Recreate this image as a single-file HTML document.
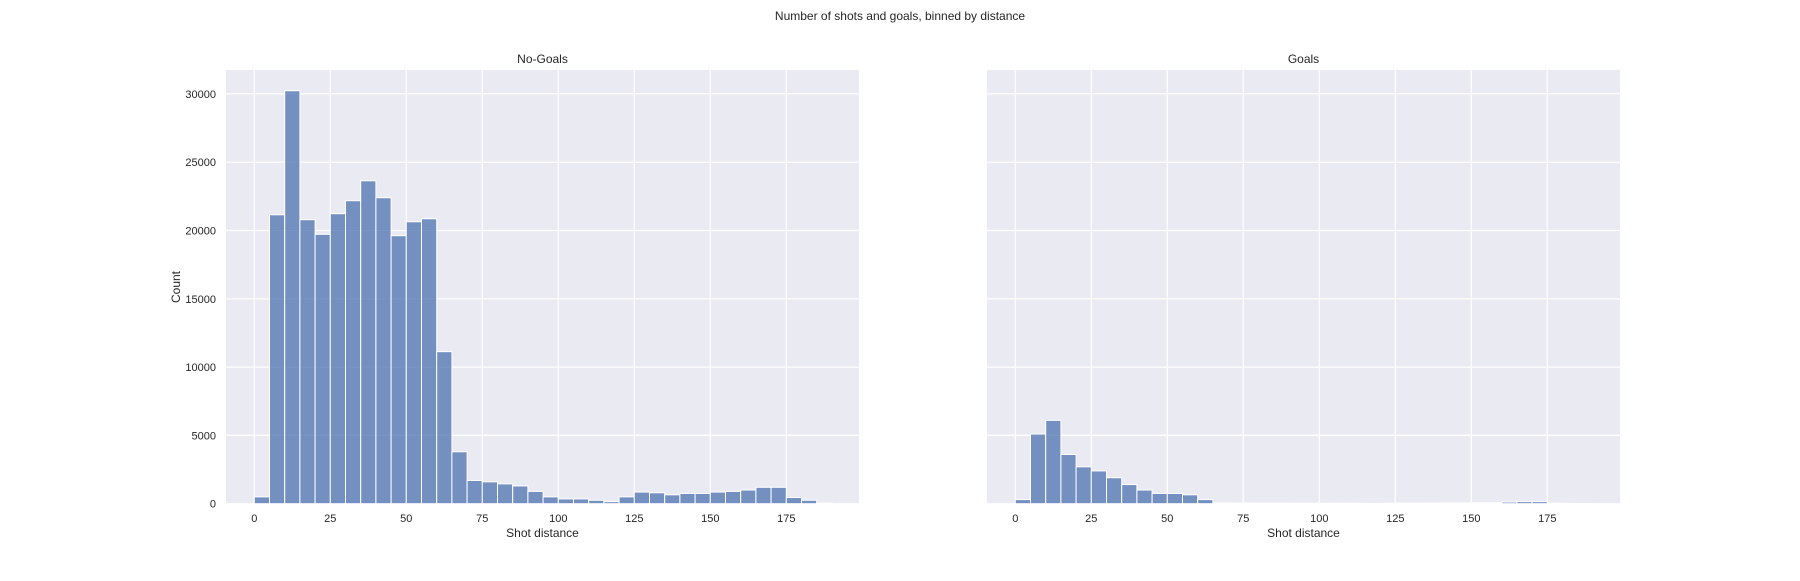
<!DOCTYPE html>
<html><head><meta charset="utf-8"><style>
body{margin:0;background:#fff;width:1800px;height:576px;overflow:hidden;font-family:"Liberation Sans",sans-serif}
svg text{font-family:"Liberation Sans",sans-serif;fill:#262626}
</style></head><body>
<svg id="chart" width="1800" height="576" xmlns="http://www.w3.org/2000/svg">
<text x="900" y="20" font-size="12" text-anchor="middle">Number of shots and goals, binned by distance</text>
</svg>
<script>
const binStarts=[0,5,10,15,20,25,30,35,40,45,50,55,60,65,70,75,80,85,90,95,100,105,110,115,120,125,130,135,140,145,150,155,160,165,170,175,180,185];
const noGoals=[500,21150,30230,20790,19720,21230,22180,23640,22400,19620,20640,20860,11130,3800,1700,1600,1450,1300,900,500,350,350,250,150,500,850,800,650,750,750,850,900,1000,1200,1200,450,250,50];
const goals=[300,5100,6100,3600,2700,2400,1900,1400,1000,750,750,650,300,60,50,50,40,40,30,30,30,30,30,20,30,40,40,50,60,60,70,70,120,150,150,40,20,10];
const xTicks=[0,25,50,75,100,125,150,175];
const yTicks=[0,5000,10000,15000,20000,25000,30000];
const binWidth=5;
const svgEl=document.getElementById('chart');
const NS='http://www.w3.org/2000/svg';
function mk(tag,attrs,parent){const e=document.createElementNS(NS,tag);for(const k in attrs)e.setAttribute(k,attrs[k]);(parent||svgEl).appendChild(e);return e;}
const plotTop=70,plotBottom=504;
const yScale=v=>503.7-v*(68.3/5000);
function panel(left,right,zero,title,data,showY,name){
  const xScale=v=>zero+v*3.04;
  const g=mk('g',{});
  
  
  const bg=mk('rect',{x:left,y:plotTop,width:right-left,height:plotBottom-plotTop,fill:'#eaeaf2'},g);
  
  
  yTicks.forEach(t=>{
    const l=mk('line',{x1:left,x2:right,y1:yScale(t),y2:yScale(t),stroke:'#fff','stroke-width':1.2},g);
    
    
    if(showY){
      const tx=mk('text',{x:left-10,y:yScale(t)+4,'font-size':11,'text-anchor':'end'},g);
      tx.textContent=t;
      
      
    }
  });
  xTicks.forEach(t=>{
    const l=mk('line',{x1:xScale(t),x2:xScale(t),y1:plotTop,y2:plotBottom,stroke:'#fff','stroke-width':1.2},g);
    
    
    const tx=mk('text',{x:xScale(t),y:plotBottom+18,'font-size':11,'text-anchor':'middle'},g);
    tx.textContent=t;
    
    
  });
  data.forEach((v,i)=>{
    const x0=xScale(binStarts[i]),x1=xScale(binStarts[i]+binWidth);
    const r=mk('rect',{x:x0,y:yScale(v),width:x1-x0,height:yScale(0)-yScale(v),fill:'rgba(76,114,176,0.75)',stroke:'#fff','stroke-width':1},g);
    
    
  });
  const tt=mk('text',{x:(left+right)/2,y:63,'font-size':12,'text-anchor':'middle'},g);
  tt.textContent=title;
  
  
  const xl=mk('text',{x:(left+right)/2,y:537,'font-size':12,'text-anchor':'middle'},g);
  xl.textContent='Shot distance';
  
  
  if(showY){
    const yl=mk('text',{x:180,y:(plotTop+plotBottom)/2,'font-size':12,'text-anchor':'middle',transform:'rotate(-90 180 '+((plotTop+plotBottom)/2)+')'},g);
    yl.textContent='Count';
    
    
  }
}
panel(226,859,254.3,'No-Goals',noGoals,true,'no-goals');
panel(987,1620,1015.3,'Goals',goals,false,'goals');
</script>
</body></html>
